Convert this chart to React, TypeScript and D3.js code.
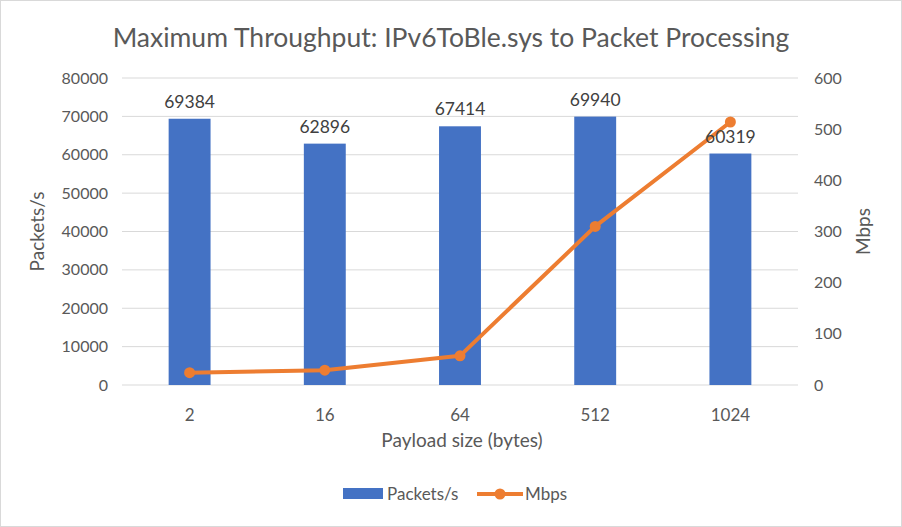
import React from "react";
import * as d3 from "d3";

const payloads = ["2", "16", "64", "512", "1024"];
const packetsPerSec = [69384, 62896, 67414, 69940, 60319];
const mbps = [24, 29, 57, 310, 514];
const leftTicks = [0, 10000, 20000, 30000, 40000, 50000, 60000, 70000, 80000];
const rightTicks = [0, 100, 200, 300, 400, 500, 600];

const W = 902;
const H = 527;
const margin = { top: 78, right: 104, bottom: 142, left: 122 };
const FONT = "Lato, 'Open Sans', sans-serif";
const BLUE = "#4472c4";
const ORANGE = "#ed7d31";
const GREY = "#595959";

const App = () => {
  const innerW = W - margin.left - margin.right;
  const innerH = H - margin.top - margin.bottom;

  const x = d3.scaleBand().domain(payloads).range([0, innerW]).paddingInner(0.69).paddingOuter(0.345);
  const yLeft = d3.scaleLinear().domain([0, 80000]).range([innerH, 0]);
  const yRight = d3.scaleLinear().domain([0, 600]).range([innerH, 0]);
  const cx = (p) => x(p) + x.bandwidth() / 2;

  const line = d3
    .line()
    .x((d, i) => cx(payloads[i]))
    .y((d) => yRight(d));

  return (
    <svg width={W} height={H} style={{ position: "absolute", left: 0, top: 0 }} fontFamily={FONT}>
      <rect x={0.5} y={0.5} width={W - 1} height={H - 1} fill="#fff" stroke="#d9d9d9" />
      <text x={451} y={47} textAnchor="middle" fontSize={26.5} fill={GREY}>
        Maximum Throughput: IPv6ToBle.sys to Packet Processing
      </text>
      <g transform={`translate(${margin.left},${margin.top})`}>
        {leftTicks.map((t) => (
          <line key={t} x1={0} x2={innerW} y1={yLeft(t)} y2={yLeft(t)} stroke="#d9d9d9" strokeWidth={1} />
        ))}
        {leftTicks.map((t) => (
          <text key={t} x={-14} y={yLeft(t)} dy="0.35em" textAnchor="end" fontSize={16} fill={GREY}>
            {t}
          </text>
        ))}
        {rightTicks.map((t) => (
          <text key={t} x={innerW + 16} y={yRight(t)} dy="0.35em" textAnchor="start" fontSize={16} fill={GREY}>
            {t}
          </text>
        ))}
        {payloads.map((p, i) => (
          <rect key={p} x={x(p)} y={yLeft(packetsPerSec[i])} width={x.bandwidth()} height={innerH - yLeft(packetsPerSec[i])} fill={BLUE} />
        ))}
        {payloads.map((p) => (
          <text key={p} x={cx(p)} y={innerH + 36} textAnchor="middle" fontSize={17} fill={GREY}>
            {p}
          </text>
        ))}
        <path d={line(mbps)} fill="none" stroke={ORANGE} strokeWidth={4} strokeLinejoin="round" />
        {payloads.map((p, i) => (
          <circle key={p} cx={cx(p)} cy={yRight(mbps[i])} r={5.5} fill={ORANGE} />
        ))}
        {payloads.map((p, i) => (
          <text key={p} x={cx(p)} y={yLeft(packetsPerSec[i]) - 11} textAnchor="middle" fontSize={17.5} fill="#404040">
            {packetsPerSec[i]}
          </text>
        ))}
        <text x={innerW / 2 + 2} y={innerH + 62} textAnchor="middle" fontSize={19} fill={GREY}>
          Payload size (bytes)
        </text>
        <text transform={`translate(-78,${innerH / 2}) rotate(-90)`} textAnchor="middle" fontSize={19} fill={GREY}>
          Packets/s
        </text>
        <text transform={`translate(${innerW + 72},${innerH / 2}) rotate(-90)`} textAnchor="middle" fontSize={19} fill={GREY}>
          Mbps
        </text>
      </g>
      <g transform="translate(343,494)">
        <rect x={0} y={-6} width={40} height={11} fill={BLUE} />
        <text x={44} y={0} dy="0.35em" fontSize={17} fill={GREY}>Packets/s</text>
        <line x1={134} x2={180} y1={0} y2={0} stroke={ORANGE} strokeWidth={4} />
        <circle cx={157} cy={0} r={5.5} fill={ORANGE} />
        <text x={182} y={0} dy="0.35em" fontSize={17} fill={GREY}>Mbps</text>
      </g>
    </svg>
  );
};

export default App;
